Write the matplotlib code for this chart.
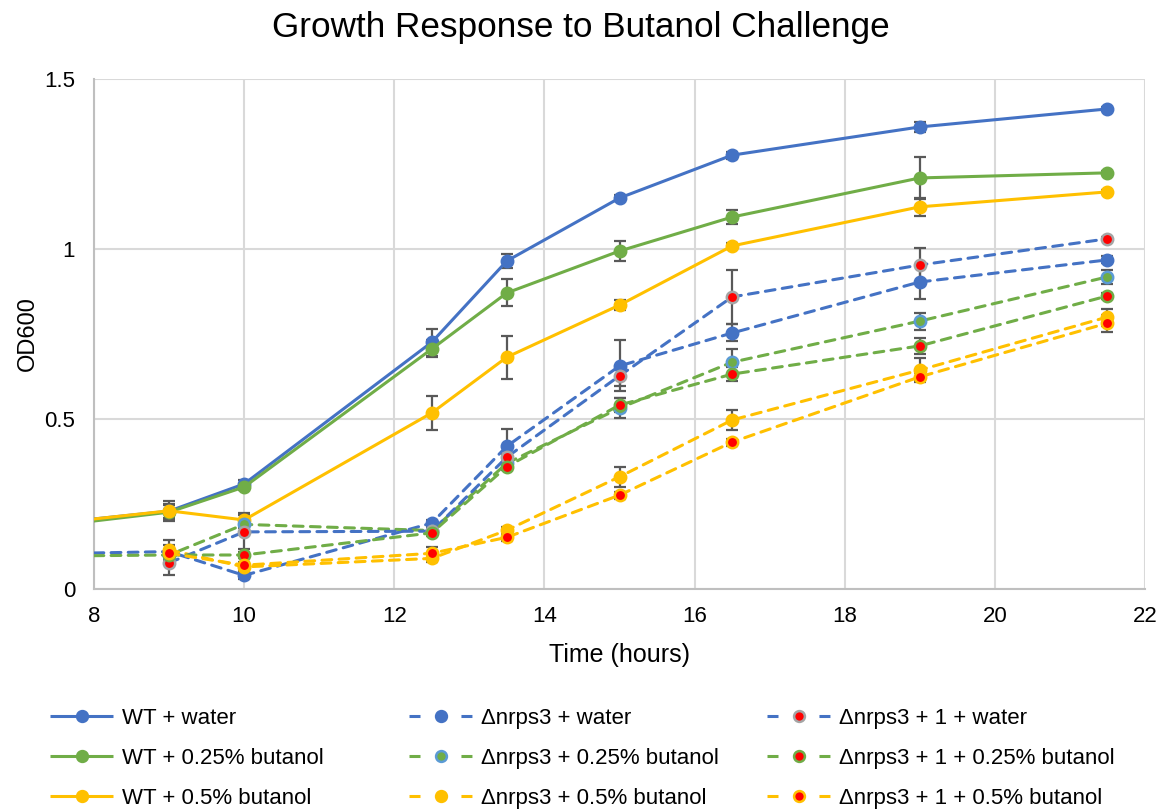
import matplotlib
matplotlib.use("Agg")
import matplotlib.pyplot as plt
import numpy as np
from matplotlib.lines import Line2D
from matplotlib.ticker import FuncFormatter

plt.rcParams['font.family'] = ['Liberation Sans', 'DejaVu Sans']

# Sampling times (hours)
t_full = [8, 9, 10, 12.5, 13.5, 15, 16.5, 19, 21.5]
t_late = [9, 10, 12.5, 13.5, 15, 16.5, 19, 21.5]

# Wild type
wt_water = [0.206, 0.229, 0.309, 0.726, 0.965, 1.150, 1.276, 1.359, 1.412]
wt_water_err = [0, 0.03, 0.012, 0.04, 0.02, 0.01, 0.01, 0.015, 0.005]
wt_b025 = [0.200, 0.226, 0.300, 0.706, 0.871, 0.994, 1.094, 1.209, 1.224]
wt_b025_err = [0, 0.02, 0.01, 0.025, 0.04, 0.03, 0.02, 0.062, 0.005]
wt_b05 = [0.206, 0.230, 0.203, 0.518, 0.682, 0.835, 1.009, 1.124, 1.168]
wt_b05_err = [0, 0.02, 0.02, 0.05, 0.063, 0.015, 0.01, 0.027, 0.005]

# Δnrps3 mutant
d_water = [0.106, 0.110, 0.040, 0.194, 0.420, 0.656, 0.753, 0.903, 0.968]
d_water_err = [0, 0.02, 0.01, 0.01, 0.05, 0.075, 0.025, 0.05, 0.01]
d_b025 = [0.098, 0.100, 0.190, 0.172, 0.370, 0.532, 0.667, 0.788, 0.918]
d_b025_err = [0, 0.01, 0.01, 0.01, 0.01, 0.03, 0.04, 0.025, 0.02]
d_b05 = [0.115, 0.065, 0.090, 0.173, 0.330, 0.497, 0.644, 0.800]
d_b05_err = [0.03, 0.01, 0.01, 0.01, 0.03, 0.03, 0.035, 0.025]

# Δnrps3 + 1 complemented strain
c_water = [0.077, 0.168, 0.170, 0.388, 0.627, 0.859, 0.953, 1.030]
c_water_err = [0.035, 0.05, 0.01, 0.01, 0.03, 0.08, 0.05, 0.005]
c_b025 = [0.100, 0.100, 0.165, 0.360, 0.541, 0.632, 0.715, 0.862]
c_b025_err = [0.01, 0.01, 0.01, 0.01, 0.02, 0.02, 0.023, 0.01]
c_b05 = [0.105, 0.070, 0.105, 0.152, 0.276, 0.432, 0.624, 0.782]
c_b05_err = [0.01, 0.01, 0.02, 0.01, 0.01, 0.01, 0.01, 0.025]

labels = ["WT + water", "WT + 0.25% butanol", "WT + 0.5% butanol",
          "Δnrps3 + water", "Δnrps3 + 0.25% butanol", "Δnrps3 + 0.5% butanol",
          "Δnrps3 + 1 + water", "Δnrps3 + 1 + 0.25% butanol", "Δnrps3 + 1 + 0.5% butanol"]

BLUE = "#4472C4"
GREEN = "#70AD47"
GOLD = "#FFC000"
RED = "#FF0000"
GREY = "#A5A5A5"
LIGHTBLUE = "#5B9BD5"
ERR = "#595959"

# (x, y, err, line colour, dashed, marker face, marker edge)
series = [
    (t_full, wt_water, wt_water_err, BLUE, False, BLUE, BLUE),
    (t_full, wt_b025, wt_b025_err, GREEN, False, GREEN, GREEN),
    (t_full, wt_b05, wt_b05_err, GOLD, False, GOLD, GOLD),
    (t_full, d_water, d_water_err, BLUE, True, BLUE, BLUE),
    (t_full, d_b025, d_b025_err, GREEN, True, GREEN, LIGHTBLUE),
    (t_late, d_b05, d_b05_err, GOLD, True, GOLD, GOLD),
    (t_late, c_water, c_water_err, BLUE, True, RED, GREY),
    (t_late, c_b025, c_b025_err, GREEN, True, RED, GREEN),
    (t_late, c_b05, c_b05_err, GOLD, True, RED, GOLD),
]

W, H = 1161, 810
fig = plt.figure(figsize=(W / 100, H / 100), dpi=100)
ax = fig.add_axes([94 / W, 1 - 589 / H, (1145 - 94) / W, (589 - 79) / H])

LW = 2.2
MS = 8.2
MEW = 1.8
DASH = (3.2, 2.4)
LEG_DASH = (3.6, 13.4)

handles = []
for i, (x, y, e, col, dashed, mfc, mec) in enumerate(series):
    x = np.asarray(x, float)
    y = np.asarray(y, float)
    e = np.asarray(e, float)
    shown = [k for k in range(len(x)) if x[k] > 8]
    ax.errorbar(x[shown], y[shown], yerr=e[shown], fmt='none', ecolor=ERR,
                elinewidth=1.6, capsize=4.5, capthick=1.6, zorder=2 + i * 0.1)
    ls = (0, DASH) if dashed else '-'
    ax.plot(x, y, color=col, lw=LW, linestyle=ls, zorder=3 + i * 0.1,
            solid_capstyle='round', dash_capstyle='round')
    ax.plot(x[shown], y[shown], linestyle='none', marker='o', ms=MS,
            mfc=mfc, mec=mec, mew=MEW, zorder=3.05 + i * 0.1)
    handles.append(Line2D([], [], color=col, lw=LW,
                          linestyle=(0, LEG_DASH) if dashed else '-',
                          marker='o', ms=MS * 0.95, mfc=mfc, mec=mec, mew=MEW,
                          dash_capstyle='butt', solid_capstyle='butt'))

ax.set_xlim(8, 22)
ax.set_ylim(0, 1.5)
ax.set_xticks(np.arange(8, 23, 2))
ax.set_yticks([0, 0.5, 1, 1.5])
ax.yaxis.set_major_formatter(FuncFormatter(lambda v, p: f"{v:g}"))
ax.grid(True, color="#D9D9D9", lw=1.5)
ax.set_axisbelow(True)
for side in ("top", "right"):
    ax.spines[side].set_visible(False)
for side in ("left", "bottom"):
    ax.spines[side].set_color("#BFBFBF")
    ax.spines[side].set_linewidth(1.5)
ax.tick_params(axis='y', length=0, labelsize=16, colors="black", pad=13.5)
ax.tick_params(axis='x', length=0, labelsize=16, colors="black", pad=12)
ax.set_xlabel("Time (hours)", fontsize=18, labelpad=12)
ax.set_ylabel("OD600", fontsize=17, labelpad=4)

fig.text(0.5, 1 - 28 / H, "Growth Response to Butanol Challenge",
         ha='center', va='center', fontsize=25.3)

# Legend: three columns, one per strain
col_x = [50 / W, 409 / W, 767 / W]
for c in range(3):
    fig.legend(handles[3 * c:3 * c + 3], labels[3 * c:3 * c + 3],
               loc='upper left', bbox_to_anchor=(col_x[c], 1 - 708 / H),
               frameon=False, fontsize=16, handlelength=2.85,
               handletextpad=0.38, labelspacing=0.86, borderaxespad=0,
               borderpad=0, numpoints=1)

fig.savefig("out.png", dpi=100)
